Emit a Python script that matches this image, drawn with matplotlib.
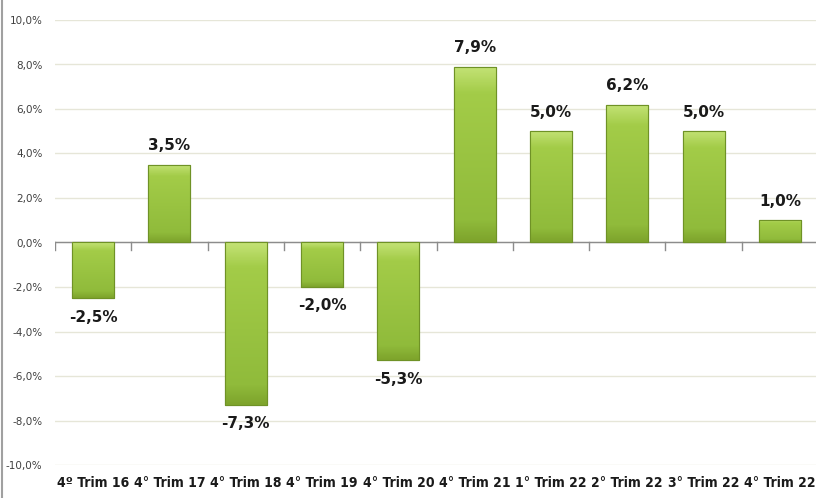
import numpy as np
import matplotlib
matplotlib.use('Agg')
import matplotlib.pyplot as plt
from matplotlib.ticker import FuncFormatter

categories = ['4º Trim 16', '4° Trim 17', '4° Trim 18', '4° Trim 19', '4° Trim 20',
              '4° Trim 21', '1° Trim 22', '2° Trim 22', '3° Trim 22', '4° Trim 22']
values = [-2.5, 3.5, -7.3, -2.0, -5.3, 7.9, 5.0, 6.2, 5.0, 1.0]
yticks = [-10, -8, -6, -4, -2, 0, 2, 4, 6, 8, 10]


def pct(v, pos=None):
    return ('%.1f%%' % v).replace('.', ',')


fig = plt.figure(figsize=(8.16, 4.98), dpi=100)
fig.patch.set_facecolor('white')
ax = fig.add_axes([55/816, 33/498, 763/816, 445/498])

x = np.arange(len(values))
bars = ax.bar(x, values, width=0.55, color='#9cc23e', edgecolor='#6b8c22',
              linewidth=0.8, zorder=3)

# bevel-ish shading: light top edge, bright green body, darker bottom
grad = np.linspace(0, 1, 100).reshape(-1, 1)
cmap = matplotlib.colors.LinearSegmentedColormap.from_list(
    'g', [(0, '#7ea42c'), (0.12, '#90bb3b'), (0.85, '#a3cc48'), (1, '#c3e275')])
for b in bars:
    x0, y0 = b.get_x(), b.get_y()
    w, h = b.get_width(), b.get_height()
    lo, hi = min(y0, y0 + h), max(y0, y0 + h)
    im = ax.imshow(grad, extent=[x0, x0 + w, lo, hi], origin='lower',
                   aspect='auto', cmap=cmap, zorder=3.5)
    im.set_clip_path(b)
    ax.add_patch(plt.Rectangle((x0, y0), w, h, fill=False, edgecolor='#6f9226',
                               linewidth=0.8, zorder=4))

for xi, v in zip(x, values):
    off = 0.85 if v >= 0 else -0.85
    ax.text(xi, v + off, pct(v), ha='center', va='center',
            fontsize=11, fontweight='bold', color='#1a1a1a', zorder=5)

ax.set_xlim(-0.5, len(values) - 0.5)
ax.set_ylim(-10, 10)
ax.set_yticks(yticks)
ax.yaxis.set_major_formatter(FuncFormatter(pct))
ax.set_xticks(x)
ax.set_xticklabels(categories, fontsize=10, fontweight='bold',
                   fontstretch='condensed', color='#1a1a1a')
ax.tick_params(axis='x', length=0, pad=8)
ax.tick_params(axis='y', length=0, labelsize=7.5, labelcolor='#404040', pad=9)
ax.grid(axis='y', color='#e6e6d8', linewidth=1, zorder=0)
ax.set_axisbelow(True)
for s in ax.spines.values():
    s.set_visible(False)

# zero line with category tick marks
ax.axhline(0, color='#8c8c8c', linewidth=1, zorder=2)
for b in np.arange(-0.5, len(values), 1.0):
    ax.plot([b, b], [0, -0.35], color='#8c8c8c', linewidth=1, zorder=2)

# left chart border
fig.add_artist(plt.Line2D([0.002, 0.002], [0, 1], color='#a0a0a0',
                          linewidth=1.5, transform=fig.transFigure))

fig.savefig('out.png', dpi=100)
